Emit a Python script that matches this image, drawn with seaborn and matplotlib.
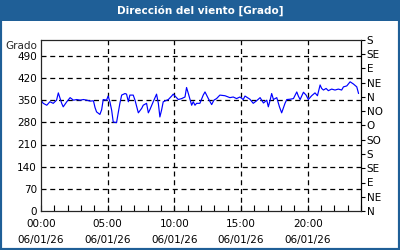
import matplotlib
matplotlib.use("Agg")
import matplotlib.pyplot as plt
import seaborn as sns
import pandas as pd
from matplotlib.patches import Rectangle

# --- data -------------------------------------------------------------
minutes = [0, 10, 26, 40, 55, 70, 78, 93, 100, 116, 131, 146, 161, 176, 191, 206,
           221, 236, 243, 250, 265, 273, 280, 295, 302, 310, 318, 325, 340, 347,
           355, 363, 378, 385, 393, 400, 415, 423, 438, 453, 460, 475, 483, 490,
           505, 520, 528, 535, 543, 550, 573, 588, 595, 603, 618, 633, 648, 655,
           663, 678, 685, 693, 700, 715, 730, 738, 753, 768, 778, 790, 805, 828,
           850, 865, 880, 895, 910, 918, 940, 955, 970, 986, 1001, 1016, 1023,
           1031, 1038, 1046, 1061, 1073, 1083, 1098, 1106, 1121, 1136, 1151, 1158,
           1166, 1181, 1193, 1203, 1218, 1233, 1244, 1256, 1263, 1271, 1283, 1293,
           1308, 1323, 1338, 1353, 1361, 1376, 1391, 1406, 1421, 1429]
direction = [350, 340, 334, 345, 340, 350, 373, 340, 329, 345, 358, 350, 352, 350,
             352, 350, 347, 348, 327, 313, 305, 320, 352, 350, 363, 345, 318, 281,
             279, 308, 340, 366, 371, 369, 345, 366, 366, 350, 310, 324, 334, 340,
             310, 320, 345, 369, 340, 297, 320, 345, 352, 363, 369, 363, 352, 355,
             360, 390, 371, 334, 345, 334, 340, 340, 366, 376, 355, 336, 350, 355,
             366, 364, 358, 360, 355, 360, 352, 363, 353, 340, 348, 358, 341, 350,
             329, 350, 371, 352, 358, 329, 310, 340, 352, 353, 355, 376, 363, 352,
             375, 366, 352, 364, 373, 364, 398, 387, 382, 387, 380, 385, 382, 385,
             382, 392, 395, 408, 401, 392, 371]
x_tick_hours = [0, 5, 10, 15, 20]
x_tick_labels = ["00:00\n06/01/26", "05:00\n06/01/26", "10:00\n06/01/26",
                 "15:00\n06/01/26", "20:00\n06/01/26"]
y_ticks = [0, 70, 140, 210, 280, 350, 420, 490]
compass_labels = ["N", "NE", "E", "SE", "S", "SO", "O", "NO",
                  "N", "NE", "E", "SE", "S"]
title = "Dirección del viento [Grado]"
y_label = "Grado"

df = pd.DataFrame({"hour": [m / 60 for m in minutes], "dir": direction})

# --- figure -----------------------------------------------------------
sns.set_style("white")
plt.rcParams["font.family"] = ["DejaVu Sans"]
fig = plt.figure(figsize=(4, 2.5), dpi=100)
blue = "#1f5f97"

# outer border and title bar
fig.patches.append(Rectangle((0, 0), 1, 1, transform=fig.transFigure,
                             fill=False, edgecolor=blue, linewidth=3, zorder=0))
fig.patches.append(Rectangle((0, 1 - 21 / 250), 1, 21 / 250, transform=fig.transFigure,
                             facecolor=blue, edgecolor="none", zorder=1))
fig.text(0.5, 1 - 10.5 / 250, title, color="white", fontsize=7.5,
         fontweight="bold", ha="center", va="center")

ax = fig.add_axes([41 / 400, 1 - 211 / 250, 320 / 400, 171 / 250])
sns.lineplot(data=df, x="hour", y="dir", ax=ax, color="#0000ff", linewidth=0.85)

ax.set_xlim(0, 24)
ax.set_ylim(0, 540)
ax.set_xlabel("")
ax.set_ylabel("")
ax.set_xticks(x_tick_hours)
ax.set_xticklabels(x_tick_labels, fontsize=7.5, linespacing=1.75)
ax.set_xticks(range(0, 25), minor=True)
ax.set_yticks(y_ticks)
ax.set_yticklabels([str(v) for v in y_ticks], fontsize=7.5)
ax.tick_params(axis="x", which="both", direction="in", length=4, width=0.8,
               bottom=True, pad=6, colors="black")
ax.tick_params(axis="y", length=0, pad=3, colors="black")
for s in ax.spines.values():
    s.set_color("black")
    s.set_linewidth(0.8)

for h in x_tick_hours[1:]:
    ax.axvline(h, color="black", linestyle=(0, (4, 3)), linewidth=0.9, zorder=0)
for v in y_ticks[1:]:
    ax.axhline(v, color="black", linestyle=(0, (4, 3)), linewidth=0.9, zorder=0)

ax2 = ax.twinx()
ax2.set_ylim(0, 540)
ax2.set_yticks([45 * i for i in range(len(compass_labels))])
ax2.set_yticklabels(compass_labels, fontsize=7.5)
ax2.tick_params(axis="y", direction="out", length=3, width=0.8, pad=1, colors="black")
ax2.spines["right"].set_color("black")
ax2.spines["right"].set_linewidth(0.8)

fig.text(37 / 400, 1 - 46 / 250, y_label, fontsize=7.5, ha="right", va="center")

fig.savefig("out.png", dpi=100)
